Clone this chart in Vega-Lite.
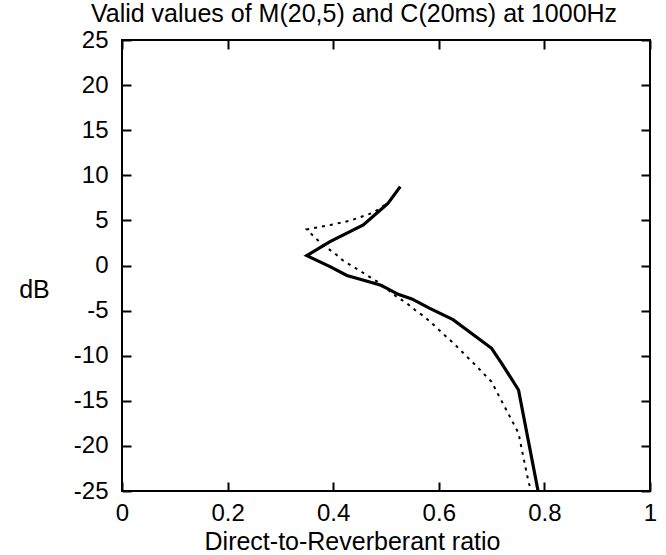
{
  "$schema": "https://vega.github.io/schema/vega-lite/v6.json",
  "width": 528,
  "height": 451,
  "autosize": {"type": "none"},
  "padding": {"left": 122, "top": 40, "right": 16, "bottom": 64},
  "background": "white",
  "config": {
    "view": {"stroke": "black", "strokeWidth": 2},
    "font": "Liberation Sans",
    "axis": {
      "domain": false,
      "grid": false,
      "tickSize": -9,
      "tickWidth": 2,
      "tickColor": "black",
      "labelFontSize": 24,
      "labelColor": "black",
      "labelFont": "Liberation Sans",
      "titleFont": "Liberation Sans",
      "titleFontSize": 25,
      "titleFontWeight": "normal",
      "titleColor": "black",
      "labelFlush": false,
      "labelOverlap": false
    }
  },
  "title": {
    "text": "Valid values of M(20,5) and C(20ms) at 1000Hz",
    "fontSize": 25,
    "fontWeight": "normal",
    "font": "Liberation Sans",
    "color": "black",
    "anchor": "middle",
    "dx": -32,
    "offset": 1
  },
  "datasets": {
    "curves": [
      {"series": "solid", "i": 1, "x": 0.527, "y": 8.74},
      {"series": "solid", "i": 2, "x": 0.504, "y": 6.9},
      {"series": "solid", "i": 3, "x": 0.498, "y": 6.6},
      {"series": "solid", "i": 4, "x": 0.457, "y": 4.49},
      {"series": "solid", "i": 5, "x": 0.394, "y": 2.64},
      {"series": "solid", "i": 6, "x": 0.35, "y": 1.1},
      {"series": "solid", "i": 7, "x": 0.394, "y": -0.13},
      {"series": "solid", "i": 8, "x": 0.426, "y": -1.1},
      {"series": "solid", "i": 9, "x": 0.451, "y": -1.53},
      {"series": "solid", "i": 10, "x": 0.489, "y": -2.16},
      {"series": "solid", "i": 11, "x": 0.501, "y": -2.5},
      {"series": "solid", "i": 12, "x": 0.523, "y": -3.2},
      {"series": "solid", "i": 13, "x": 0.549, "y": -3.7},
      {"series": "solid", "i": 14, "x": 0.583, "y": -4.75},
      {"series": "solid", "i": 15, "x": 0.627, "y": -6.0},
      {"series": "solid", "i": 16, "x": 0.7, "y": -9.18},
      {"series": "solid", "i": 17, "x": 0.719, "y": -10.84},
      {"series": "solid", "i": 18, "x": 0.751, "y": -13.8},
      {"series": "solid", "i": 19, "x": 0.788, "y": -25.0},
      {"series": "dotted", "i": 1, "x": 0.527, "y": 8.7},
      {"series": "dotted", "i": 2, "x": 0.505, "y": 7.0},
      {"series": "dotted", "i": 3, "x": 0.476, "y": 5.86},
      {"series": "dotted", "i": 4, "x": 0.432, "y": 4.97},
      {"series": "dotted", "i": 5, "x": 0.394, "y": 4.49},
      {"series": "dotted", "i": 6, "x": 0.35, "y": 4.0},
      {"series": "dotted", "i": 7, "x": 0.362, "y": 3.3},
      {"series": "dotted", "i": 8, "x": 0.38, "y": 2.3},
      {"series": "dotted", "i": 9, "x": 0.403, "y": 1.35},
      {"series": "dotted", "i": 10, "x": 0.419, "y": 0.53},
      {"series": "dotted", "i": 11, "x": 0.438, "y": -0.13},
      {"series": "dotted", "i": 12, "x": 0.454, "y": -0.72},
      {"series": "dotted", "i": 13, "x": 0.473, "y": -1.4},
      {"series": "dotted", "i": 14, "x": 0.489, "y": -2.0},
      {"series": "dotted", "i": 15, "x": 0.52, "y": -3.46},
      {"series": "dotted", "i": 16, "x": 0.538, "y": -4.12},
      {"series": "dotted", "i": 17, "x": 0.555, "y": -4.93},
      {"series": "dotted", "i": 18, "x": 0.571, "y": -5.6},
      {"series": "dotted", "i": 19, "x": 0.583, "y": -6.2},
      {"series": "dotted", "i": 20, "x": 0.631, "y": -8.8},
      {"series": "dotted", "i": 21, "x": 0.672, "y": -11.2},
      {"series": "dotted", "i": 22, "x": 0.7, "y": -12.9},
      {"series": "dotted", "i": 23, "x": 0.716, "y": -14.7},
      {"series": "dotted", "i": 24, "x": 0.735, "y": -16.8},
      {"series": "dotted", "i": 25, "x": 0.751, "y": -18.6},
      {"series": "dotted", "i": 26, "x": 0.76, "y": -21.2},
      {"series": "dotted", "i": 27, "x": 0.77, "y": -24.0},
      {"series": "dotted", "i": 28, "x": 0.775, "y": -25.0}
    ]
  },
  "data": {"name": "curves"},
  "layer": [
    {
      "transform": [{"filter": "datum.series === 'solid'"}],
      "mark": {"type": "line", "color": "black", "strokeWidth": 3.2, "clip": true},
      "encoding": {
        "x": {
          "field": "x", "type": "quantitative",
          "scale": {"domain": [0, 1], "nice": false, "zero": false},
          "axis": {
            "orient": "bottom",
            "values": [0, 0.2, 0.4, 0.6, 0.8, 1],
            "labelExpr": "'' + datum.value",
            "labelPadding": 19,
            "title": "Direct-to-Reverberant ratio",
            "titleX": 230,
            "titleY": 58,
            "titleAlign": "center",
            "titleBaseline": "alphabetic"
          }
        },
        "y": {
          "field": "y", "type": "quantitative",
          "scale": {"domain": [-25, 25], "nice": false, "zero": false},
          "axis": {
            "orient": "left",
            "values": [-25, -20, -15, -10, -5, 0, 5, 10, 15, 20, 25],
            "labelExpr": "datum.value < 0 ? '-' + abs(datum.value) : '' + datum.value",
            "labelPadding": 23,
            "title": "dB",
            "titleAngle": 0,
            "titleAlign": "center",
            "titleBaseline": "middle",
            "titleX": -88,
            "titleY": 249
          }
        },
        "order": {"field": "i", "type": "quantitative"}
      }
    },
    {
      "transform": [{"filter": "datum.series === 'dotted'"}],
      "mark": {"type": "line", "color": "black", "strokeWidth": 2, "strokeDash": [3, 5], "clip": true},
      "encoding": {
        "x": {
          "field": "x", "type": "quantitative",
          "axis": {
            "orient": "top",
            "values": [0, 0.2, 0.4, 0.6, 0.8, 1],
            "labels": false,
            "title": null
          }
        },
        "y": {
          "field": "y", "type": "quantitative",
          "axis": {
            "orient": "right",
            "values": [-25, -20, -15, -10, -5, 0, 5, 10, 15, 20, 25],
            "labels": false,
            "title": null
          }
        },
        "order": {"field": "i", "type": "quantitative"}
      }
    }
  ],
  "resolve": {"axis": {"x": "independent", "y": "independent"}}
}
